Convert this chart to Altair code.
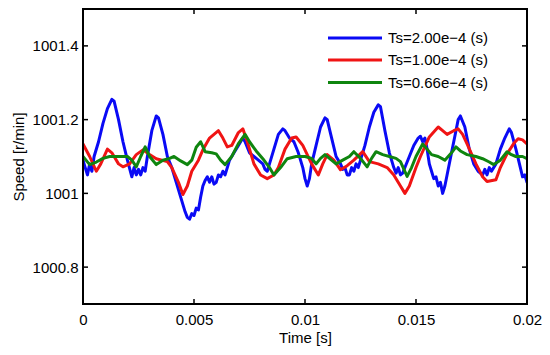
import altair as alt
import pandas as pd

# ---------------- data ----------------
series_names = ["Ts=2.00e\u22124 (s)", "Ts=1.00e\u22124 (s)", "Ts=0.66e\u22124 (s)"]
series_colors = ["#0a0af5", "#f01414", "#0f850f"]

blue_t = [0.0000, 0.0001, 0.0002, 0.0003, 0.0004, 0.0005, 0.0007, 0.0009, 0.0011, 0.0013,
          0.0014, 0.0016, 0.0018, 0.0020, 0.0022, 0.0023, 0.0024, 0.0025, 0.0026, 0.0027,
          0.0028, 0.0029, 0.0031, 0.0033, 0.0034, 0.0036, 0.0038, 0.0040, 0.0042, 0.0044,
          0.0046, 0.0047, 0.0048, 0.0049, 0.0050, 0.0051, 0.0052, 0.0053, 0.0054, 0.0055,
          0.0056, 0.0057, 0.0058, 0.0059, 0.0060, 0.0061, 0.0062, 0.0063, 0.0064, 0.0065,
          0.0066, 0.0068, 0.0070, 0.0072, 0.0073, 0.0075, 0.0077, 0.0079, 0.0081, 0.0082,
          0.0083, 0.0084, 0.0086, 0.0088, 0.0090, 0.0091, 0.0093, 0.0095, 0.0097, 0.0099,
          0.0100, 0.0101, 0.0102, 0.0103, 0.0105, 0.0107, 0.0109, 0.0110, 0.0112, 0.0114,
          0.0116, 0.0117, 0.0118, 0.0119, 0.0120, 0.0121, 0.0122, 0.0123, 0.0124, 0.0125,
          0.0127, 0.0129, 0.0131, 0.0133, 0.0134, 0.0136, 0.0138, 0.0140, 0.0141, 0.0142,
          0.0143, 0.0144, 0.0145, 0.0147, 0.0149, 0.0151, 0.0152, 0.0153, 0.0154, 0.0155,
          0.0156, 0.0157, 0.0158, 0.0159, 0.0160, 0.0161, 0.0162, 0.0163, 0.0164, 0.0166,
          0.0168, 0.0169, 0.0170, 0.0171, 0.0172, 0.0174, 0.0176, 0.0178, 0.0180, 0.0181,
          0.0182, 0.0183, 0.0184, 0.0186, 0.0188, 0.0190, 0.0192, 0.0193, 0.0195, 0.0197,
          0.0198, 0.0199, 0.0200]
blue_v = [1001.09, 1001.07, 1001.05, 1001.08, 1001.06, 1001.10, 1001.14, 1001.19, 1001.23, 1001.255,
          1001.25, 1001.20, 1001.14, 1001.09, 1001.045, 1001.07, 1001.05, 1001.065, 1001.05, 1001.07,
          1001.06, 1001.10, 1001.17, 1001.21, 1001.205, 1001.16, 1001.10, 1001.07, 1001.03, 1000.99,
          1000.95, 1000.935, 1000.93, 1000.945, 1000.94, 1000.96, 1000.955, 1000.99, 1001.02, 1001.035,
          1001.045, 1001.03, 1001.045, 1001.025, 1001.03, 1001.05, 1001.045, 1001.06, 1001.05, 1001.07,
          1001.09, 1001.11, 1001.13, 1001.15, 1001.14, 1001.11, 1001.10, 1001.09, 1001.08, 1001.065,
          1001.06, 1001.08, 1001.12, 1001.16, 1001.175, 1001.17, 1001.15, 1001.14, 1001.11, 1001.07,
          1001.04, 1001.02, 1001.04, 1001.08, 1001.13, 1001.18, 1001.205, 1001.20, 1001.15, 1001.10,
          1001.08, 1001.065, 1001.07, 1001.05, 1001.05, 1001.07, 1001.06, 1001.08, 1001.07, 1001.09,
          1001.13, 1001.18, 1001.22, 1001.24, 1001.235, 1001.17, 1001.11, 1001.07, 1001.055, 1001.07,
          1001.05, 1001.055, 1001.07, 1001.10, 1001.13, 1001.15, 1001.155, 1001.14, 1001.15, 1001.12,
          1001.08, 1001.06, 1001.04, 1001.045, 1001.02, 1001.03, 1001.00, 1001.02, 1001.05, 1001.11,
          1001.17, 1001.20, 1001.21, 1001.195, 1001.18, 1001.12, 1001.08, 1001.06, 1001.05, 1001.065,
          1001.05, 1001.07, 1001.06, 1001.08, 1001.12, 1001.15, 1001.175, 1001.165, 1001.12, 1001.07,
          1001.045, 1001.05, 1001.03]

red_t = [0.0000, 0.0003, 0.0006, 0.0008, 0.0011, 0.0013, 0.0016, 0.0018, 0.0021, 0.0024,
         0.0027, 0.0030, 0.0033, 0.0038, 0.0040, 0.0043, 0.0045, 0.0047, 0.0049, 0.0052,
         0.0054, 0.0057, 0.0061, 0.0063, 0.0065, 0.0067, 0.0070, 0.0072, 0.0074, 0.0077,
         0.0080, 0.0083, 0.0086, 0.0088, 0.0091, 0.0094, 0.0096, 0.0099, 0.0103, 0.0106,
         0.0108, 0.0110, 0.0113, 0.0116, 0.0119, 0.0122, 0.0126, 0.0129, 0.0133, 0.0137,
         0.0140, 0.0143, 0.0145, 0.0147, 0.0150, 0.0152, 0.0156, 0.0160, 0.0162, 0.0164,
         0.0167, 0.0169, 0.0171, 0.0173, 0.0177, 0.0180, 0.0182, 0.0186, 0.0188, 0.0191,
         0.0194, 0.0196, 0.0198, 0.0200]
red_v = [1001.134, 1001.10, 1001.06, 1001.08, 1001.12, 1001.11, 1001.08, 1001.072, 1001.08, 1001.105,
         1001.118, 1001.105, 1001.094, 1001.086, 1001.07, 1001.03, 1000.997, 1001.02, 1001.06, 1001.09,
         1001.118, 1001.15, 1001.17, 1001.15, 1001.126, 1001.13, 1001.165, 1001.175, 1001.14, 1001.08,
         1001.05, 1001.04, 1001.05, 1001.07, 1001.12, 1001.15, 1001.153, 1001.13, 1001.08, 1001.05,
         1001.08, 1001.105, 1001.09, 1001.064, 1001.075, 1001.09, 1001.113, 1001.086, 1001.08, 1001.07,
         1001.05, 1001.02, 1001.0, 1001.02, 1001.07, 1001.10, 1001.153, 1001.18, 1001.17, 1001.16,
         1001.17, 1001.175, 1001.16, 1001.134, 1001.08, 1001.045, 1001.032, 1001.037, 1001.07, 1001.107,
         1001.135, 1001.148, 1001.145, 1001.134]

green_t = [0.0000, 0.0003, 0.0006, 0.0009, 0.0012, 0.0016, 0.0020, 0.0022, 0.0024, 0.0026,
           0.0028, 0.0030, 0.0033, 0.0036, 0.0039, 0.0041, 0.0044, 0.0047, 0.0049, 0.0051,
           0.0053, 0.0055, 0.0058, 0.0060, 0.0062, 0.0064, 0.0067, 0.0070, 0.0073, 0.0075,
           0.0078, 0.0081, 0.0084, 0.0086, 0.0089, 0.0092, 0.0096, 0.0100, 0.0103, 0.0105,
           0.0107, 0.0109, 0.0111, 0.0114, 0.0117, 0.0120, 0.0122, 0.0125, 0.0128, 0.0130,
           0.0132, 0.0135, 0.0138, 0.0141, 0.0143, 0.0146, 0.0148, 0.0150, 0.0153, 0.0155,
           0.0157, 0.0160, 0.0163, 0.0166, 0.0168, 0.0170, 0.0173, 0.0177, 0.0180, 0.0183,
           0.0185, 0.0188, 0.0191, 0.0193, 0.0195, 0.0198, 0.0200]
green_v = [1001.10, 1001.078, 1001.085, 1001.095, 1001.10, 1001.10, 1001.10, 1001.09, 1001.072, 1001.10,
           1001.126, 1001.10, 1001.078, 1001.09, 1001.095, 1001.10, 1001.088, 1001.078, 1001.09, 1001.125,
           1001.14, 1001.113, 1001.11, 1001.107, 1001.09, 1001.078, 1001.10, 1001.135, 1001.16, 1001.14,
           1001.115, 1001.094, 1001.07, 1001.05, 1001.07, 1001.094, 1001.10, 1001.10, 1001.095, 1001.08,
           1001.095, 1001.105, 1001.095, 1001.08, 1001.09, 1001.10, 1001.113, 1001.095, 1001.072, 1001.095,
           1001.113, 1001.105, 1001.10, 1001.095, 1001.086, 1001.046, 1001.07, 1001.10, 1001.134, 1001.12,
           1001.105, 1001.10, 1001.09, 1001.11, 1001.126, 1001.115, 1001.105, 1001.10, 1001.094, 1001.085,
           1001.078, 1001.09, 1001.113, 1001.105, 1001.10, 1001.10, 1001.094]

x_ticks = [0, 0.005, 0.01, 0.015, 0.02]
y_ticks = [1000.8, 1001, 1001.2, 1001.4]

# ---------------- chart ----------------
FONT = "Liberation Sans"
W, H = 444, 295
LW = 3
x_scale = alt.Scale(domain=[0, 0.02], nice=False, zero=False)
y_scale = alt.Scale(domain=[1000.7, 1001.5], nice=False, zero=False)

x_axis = alt.Axis(values=x_ticks, format="~g", grid=False, domain=False,
                  ticks=False, labelPadding=8, titlePadding=3,
                  labelFontSize=15, titleFontSize=15, labelFont=FONT,
                  titleFont=FONT, titleFontWeight="normal",
                  labelColor="black", titleColor="black", labelFlush=False)
y_axis = alt.Axis(values=y_ticks, format="~g", grid=False, domain=False,
                  ticks=False, labelPadding=5, titlePadding=6,
                  labelFontSize=15, titleFontSize=15, labelFont=FONT,
                  titleFont=FONT, titleFontWeight="normal",
                  labelColor="black", titleColor="black", labelFlush=False)


def X(field="t:Q"):
    return alt.X(field, scale=x_scale, title="Time [s]", axis=x_axis)


def Y(field="v:Q"):
    return alt.Y(field, scale=y_scale, title="Speed [r/min]", axis=y_axis)


series = [(series_names[0], blue_t, blue_v, series_colors[0]),
          (series_names[1], red_t, red_v, series_colors[1]),
          (series_names[2], green_t, green_v, series_colors[2])]

layers = []
for name, ts, vs, col in series:
    df = pd.DataFrame({"t": ts, "v": vs})
    layers.append(
        alt.Chart(df).mark_line(color=col, strokeWidth=LW, clip=True,
                                strokeJoin="round", strokeCap="round")
        .encode(x=X(), y=Y())
    )

# inward tick marks on all four sides
ydf = pd.DataFrame({"v": y_ticks})
xdf = pd.DataFrame({"t": x_ticks[1:-1]})
tick_style = dict(color="black", strokeWidth=1.5)
layers.append(alt.Chart(ydf).mark_rule(**tick_style).encode(
    y=Y(), x=alt.value(0), x2=alt.value(5)))
layers.append(alt.Chart(ydf).mark_rule(**tick_style).encode(
    y=Y(), x=alt.value(W - 5), x2=alt.value(W)))
layers.append(alt.Chart(xdf).mark_rule(**tick_style).encode(
    x=X(), y=alt.value(H - 5), y2=alt.value(H)))
layers.append(alt.Chart(xdf).mark_rule(**tick_style).encode(
    x=X(), y=alt.value(0), y2=alt.value(5)))

# black frame round the plot area
frame_df = pd.DataFrame({"k": [0]})
frame_style = dict(color="black", strokeWidth=2, strokeCap="square")
layers.append(alt.Chart(frame_df).mark_rule(**frame_style).encode(
    x=alt.value(0), x2=alt.value(W), y=alt.value(0)))
layers.append(alt.Chart(frame_df).mark_rule(**frame_style).encode(
    x=alt.value(0), x2=alt.value(W), y=alt.value(H)))
layers.append(alt.Chart(frame_df).mark_rule(**frame_style).encode(
    y=alt.value(0), y2=alt.value(H), x=alt.value(0)))
layers.append(alt.Chart(frame_df).mark_rule(**frame_style).encode(
    y=alt.value(0), y2=alt.value(H), x=alt.value(W)))

# legend (drawn manually inside the plot, top-right)
legend_y = [29, 51, 73.5]
for (name, _, _, col), ly in zip(series, legend_y):
    ldf = pd.DataFrame({"label": [name]})
    layers.append(alt.Chart(ldf).mark_rule(color=col, strokeWidth=LW).encode(
        x=alt.value(245), x2=alt.value(299), y=alt.value(ly)))
    layers.append(alt.Chart(ldf).mark_text(align="left", baseline="middle", fontSize=15,
                                           font=FONT, color="black").encode(
        x=alt.value(305), y=alt.value(ly), text="label:N"))

chart = alt.layer(*layers).properties(
    width=W, height=H,
    background="white",
    autosize=alt.AutoSizeParams(type="none"),
    padding={"left": 75, "top": 1, "right": 15, "bottom": 43},
).configure_view(stroke=None)

chart.save("out.html", embed_options={"renderer": "svg", "actions": False})
